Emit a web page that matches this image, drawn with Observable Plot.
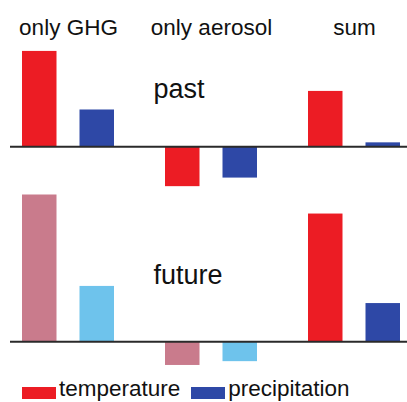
<!DOCTYPE html>
<html><head><meta charset="utf-8">
<script src="https://cdn.jsdelivr.net/npm/d3@7"></script>
<script src="https://cdn.jsdelivr.net/npm/@observablehq/plot@0.6"></script>
<style>
body{margin:0;background:#fff;font-family:"Liberation Sans",Arial,Helvetica,sans-serif;}
#chart svg{display:block}
#legend{height:27px;line-height:27px;font-size:22.5px;color:#111;white-space:nowrap;padding-left:22px}
.sw{display:inline-block;width:34px;height:12px;vertical-align:-3px;margin-right:3px}
.item2{margin-left:11px}
</style></head><body><div id="chart"></div><div id="legend"></div>
<script>
const groups = ["only GHG", "only aerosol", "sum"];
const panels = ["past", "future"];
const variables = ["temperature", "precipitation"];
const pastTemperature = [1.0, -0.42, 0.58];
const pastPrecipitation = [0.385, -0.33, 0.04];
const futureTemperature = [1.54, -0.25, 1.34];
const futurePrecipitation = [0.58, -0.21, 0.40];
const futureShade = ["light", "light", "full"];
const pastShade = ["full", "full", "full"];

const series = {
  past: {temperature: pastTemperature, precipitation: pastPrecipitation, shade: pastShade},
  future: {temperature: futureTemperature, precipitation: futurePrecipitation, shade: futureShade}
};
const rows = [];
for (const panel of panels) {
  groups.forEach((group, i) => {
    for (const variable of variables) {
      const shade = series[panel].shade[i];
      rows.push({panel, group, variable, value: series[panel][variable][i],
        key: shade === "light" ? variable + " light" : variable});
    }
  });
}
const colorDomain = ["temperature", "precipitation", "temperature light", "precipitation light"];
const colorRange = ["#ec1c24", "#2e48a6", "#c97b8c", "#6ec3ec"];

const chart = Plot.plot({
  width: 407, height: 375,
  marginTop: 40, marginBottom: 14, marginLeft: 10, marginRight: 0,
  style: {fontFamily: "'Liberation Sans', Arial, sans-serif", color: "#111", background: "#fff"},
  x: {domain: groups, paddingInner: 0.357, paddingOuter: 0.0666, align: 0.615, axis: null},
  y: {domain: [-0.1979, 1.1042], axis: null},
  fy: {domain: panels, paddingInner: 0.362, paddingOuter: 0, axis: null},
  color: {domain: colorDomain, range: colorRange},
  marks: [
    Plot.barY(rows.filter(d => d.variable === "temperature"),
      {x: "group", y1: 0, y2: "value", fy: "panel", fill: "key", insetRight: 57.5}),
    Plot.barY(rows.filter(d => d.variable === "precipitation"),
      {x: "group", y1: 0, y2: "value", fy: "panel", fill: "key", insetLeft: 57.5}),
    Plot.ruleY([0], {stroke: "#2a2a2a", strokeWidth: 2}),
    Plot.text(groups, {x: d => d, fy: () => "past", frameAnchor: "top", lineAnchor: "middle", dy: -14, fontSize: 22.5, fill: "#111"}),
    Plot.text(panels, {fy: d => d, x: () => "only aerosol", y: d => d === "past" ? 0.60 : 0.70,
      text: d => d, textAnchor: "start", lineAnchor: "middle", dx: -58, fontSize: 27, fill: "#111"})
  ]
});
document.getElementById("chart").append(chart);

const legend = document.getElementById("legend");
variables.forEach((v, i) => {
  const item = document.createElement("span");
  if (i > 0) item.className = "item2";
  const sw = document.createElement("span");
  sw.className = "sw";
  sw.style.background = colorRange[colorDomain.indexOf(v)];
  item.append(sw, document.createTextNode(v));
  legend.append(item);
});
</script></body></html>
